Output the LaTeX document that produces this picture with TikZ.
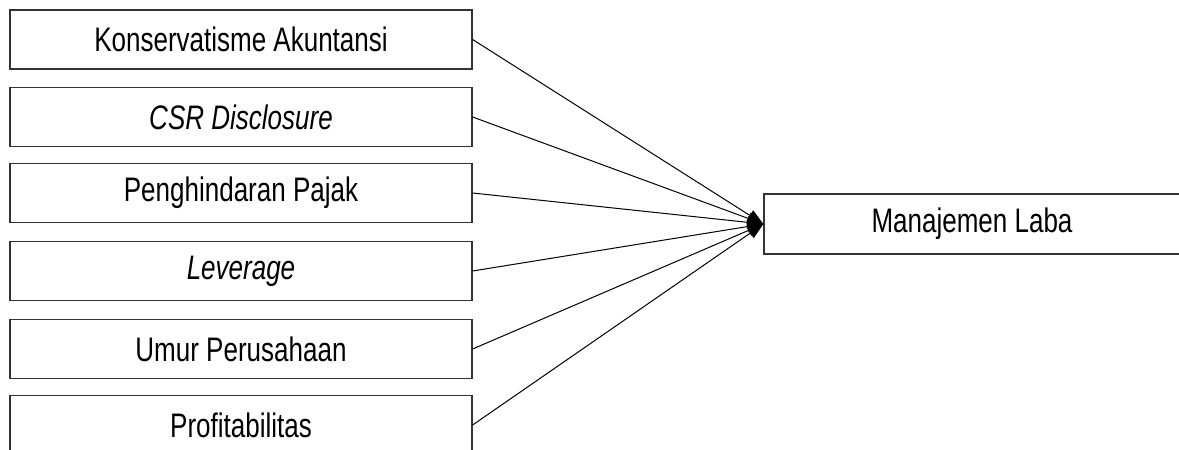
\documentclass[tikz,border=0pt]{standalone}
\usepackage{fontspec}
\setmainfont[FakeStretch=0.765]{Liberation Sans}
\usetikzlibrary{arrows.meta}
\begin{document}
\begin{tikzpicture}[x=1pt,y=-1pt,
  varbox/.style={draw=black!80,line width=1.2pt,minimum width=462pt,minimum height=59pt,inner sep=0pt,font=\fontsize{34}{40}\selectfont},
  depbox/.style={varbox,minimum width=416pt,minimum height=60pt},
  link/.style={draw=black,line width=1pt,-{Triangle[length=16pt,width=12pt]}}]
\useasboundingbox (0,0) rectangle (1179,450);
\node[varbox] (k1) at (241,39.5) {Konservatisme Akuntansi};
\node[varbox] (k2) at (241,117) {\itshape CSR Disclosure};
\node[varbox] (k3) at (241,193) {Penghindaran Pajak};
\node[varbox] (k4) at (241,271) {\itshape Leverage};
\node[varbox] (k5) at (241,349) {Umur Perusahaan};
\node[varbox] (k6) at (241,425) {Profitabilitas};
\node[depbox] (y) at (972,224) {Manajemen Laba};
\foreach \n in {k1,k2,k3,k4,k5,k6}{
  \draw[link] (\n.east) -- (y.west);
}
\end{tikzpicture}
\end{document}
